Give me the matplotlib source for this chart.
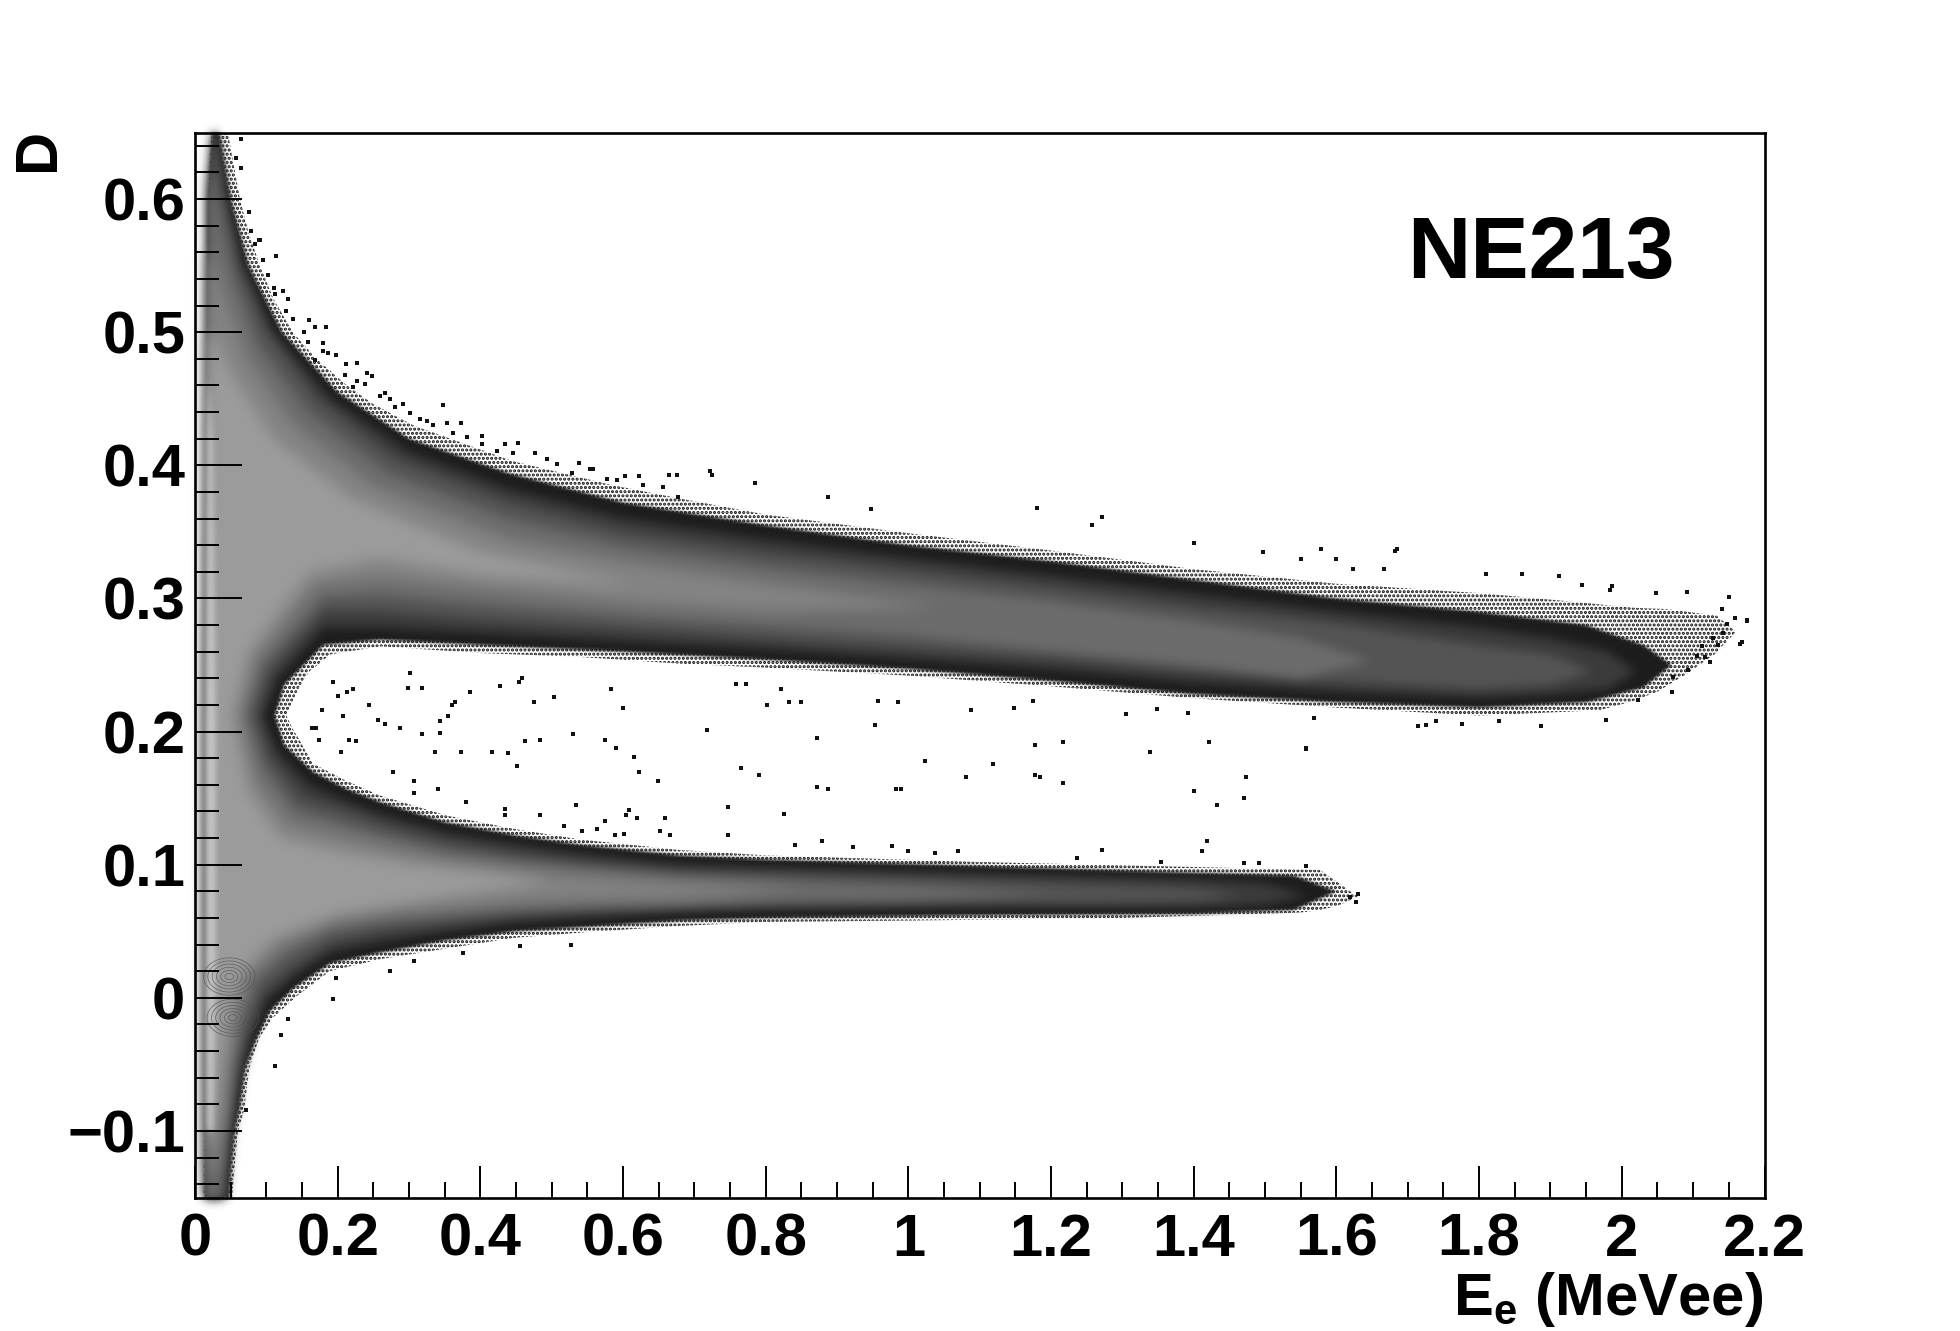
import numpy as np
import matplotlib
matplotlib.use("Agg")
import matplotlib.pyplot as plt
from matplotlib.patches import Ellipse
from matplotlib.ticker import MultipleLocator

plt.rcParams['font.family'] = ['Liberation Sans', 'DejaVu Sans']
plt.rcParams['mathtext.fontset'] = 'custom'
plt.rcParams['mathtext.bf'] = 'Liberation Sans:bold'
plt.rcParams['mathtext.rm'] = 'Liberation Sans:bold'
plt.rcParams['hatch.linewidth'] = 1.5

x_tick_values = [0, 0.2, 0.4, 0.6, 0.8, 1.0, 1.2, 1.4, 1.6, 1.8, 2.0, 2.2]
x_tick_labels = ['0', '0.2', '0.4', '0.6', '0.8', '1', '1.2', '1.4', '1.6', '1.8', '2', '2.2']
y_tick_values = [-0.1, 0, 0.1, 0.2, 0.3, 0.4, 0.5, 0.6]
y_tick_labels = ['\u22120.1', '0', '0.1', '0.2', '0.3', '0.4', '0.5', '0.6']

# Outer envelope of the speckled fringe (E, D)
fringe = [(.023,.65),(.046,.65),(.063,.6),(.075,.575),(.091,.55),(.11,.525),(.137,.5),(.17,.48),(.213,.46),(.25,.446),(.306,.43),(.446,.403),(.586,.385),(.68,.375),(.8,.363),(1.0,.349),(1.2,.336),(1.4,.322),(1.6,.311),(1.8,.304),(1.923,.298),(2.016,.293),(2.063,.292),(2.133,.287),(2.16,.275),
          (2.13,.258),(2.09,.243),(2.05,.23),(2.016,.223),(1.969,.216),(1.8,.212),(1.6,.218),(1.4,.225),(1.2,.234),(1.0,.242),(.8,.248),(.68,.251),(.54,.256),(.4,.259),(.26,.264),(.19,.258),(.16,.245),(.145,.232),(.136,.222),(.128,.212),
          (.136,.203),(.145,.195),(.165,.176),(.212,.163),(.259,.152),(.352,.137),(.446,.127),(.539,.119),(.68,.111),(.8,.107),(1.1,.102),(1.5,.097),(1.577,.096),(1.601,.087),(1.63,.076),
          (1.601,.069),(1.577,.066),(1.549,.064),(1.3,.060),(1.0,.058),(.8,.057),(.68,.054),(.54,.049),(.446,.045),(.352,.037),(.259,.029),(.189,.02),(.142,.001),(.109,-.015),(.09,-.03),(.076,-.053),(.069,-.084),(.06,-.101),(.055,-.13),(.052,-.15),
          (.012,-.15),(.014,.2),(.017,.45),(.018,.6)]
# Density contours inside it, from darkest to lightest
level1 = [(.024,.65),(.034,.65),(.05,.6),(.075,.55),(.122,.5),(.2,.455),(.3,.42),(.44,.394),(.6,.372),(.8,.355),(1,.34),(1.2,.328),(1.4,.314),(1.6,.3),(1.8,.29),(1.95,.28),(2.03,.265),(2.07,.25),
          (2.03,.233),(1.95,.222),(1.8,.218),(1.6,.222),(1.4,.228),(1.2,.238),(1,.247),(.8,.254),(.6,.26),(.4,.265),(.26,.269),(.18,.265),(.125,.235),(.112,.212),
          (.125,.19),(.165,.17),(.212,.157),(.26,.147),(.35,.132),(.45,.122),(.54,.115),(.68,.107),(.8,.104),(1.1,.099),(1.4,.094),(1.54,.092),(1.6,.08),
          (1.54,.066),(1.4,.063),(1.1,.062),(.8,.06),(.68,.058),(.54,.053),(.45,.05),(.35,.043),(.26,.034),(.19,.026),(.14,.008),(.105,-.01),(.085,-.032),(.07,-.053),(.062,-.084),(.055,-.101),(.05,-.13),(.048,-.15),
          (.014,-.15),(.014,.2),(.017,.45),(.018,.6)]
level2 = [(.024,.65),(.03,.65),(.045,.6),(.068,.55),(.11,.5),(.19,.45),(.3,.41),(.44,.382),(.6,.36),(.8,.344),(1,.33),(1.2,.317),(1.4,.303),(1.6,.29),(1.8,.278),(1.9,.27),(1.98,.26),(2.02,.245),
          (1.98,.232),(1.9,.228),(1.8,.226),(1.6,.23),(1.4,.237),(1.2,.247),(1,.255),(.8,.262),(.6,.268),(.4,.274),(.26,.278),(.18,.278),(.115,.24),(.095,.212),
          (.115,.185),(.16,.16),(.21,.148),(.26,.138),(.35,.124),(.45,.115),(.54,.108),(.68,.1),(.8,.098),(1.1,.093),(1.4,.089),(1.5,.086),(1.56,.077),
          (1.5,.07),(1.4,.068),(1.1,.068),(.8,.066),(.68,.064),(.54,.06),(.45,.057),(.35,.05),(.26,.042),(.19,.034),(.14,.017),(.1,-.002),(.08,-.028),(.066,-.053),(.057,-.084),(.051,-.101),(.046,-.13),(.044,-.15),
          (.014,-.15),(.014,.2),(.017,.45),(.018,.6)]
level3 = [(.024,.65),(.028,.65),(.04,.6),(.06,.55),(.1,.5),(.17,.45),(.28,.405),(.44,.372),(.6,.35),(.8,.334),(1,.321),(1.2,.308),(1.4,.293),(1.6,.281),(1.8,.265),(1.9,.258),(1.96,.245),
          (1.9,.235),(1.8,.232),(1.6,.238),(1.4,.245),(1.2,.255),(1,.263),(.8,.27),(.6,.277),(.4,.284),(.26,.29),(.18,.29),(.105,.245),(.085,.212),
          (.105,.18),(.15,.15),(.21,.14),(.26,.13),(.35,.117),(.45,.108),(.54,.102),(.68,.095),(.8,.093),(1.1,.088),(1.3,.084),(1.4,.082),(1.47,.077),
          (1.4,.073),(1.3,.072),(1.1,.072),(.8,.07),(.68,.068),(.54,.065),(.45,.062),(.35,.056),(.26,.05),(.19,.042),(.14,.025),(.095,.005),(.073,-.025),(.06,-.053),(.052,-.084),(.047,-.101),(.042,-.13),(.04,-.15),
          (.014,-.15),(.014,.2),(.017,.45),(.018,.6)]
level4 = [(.02,.62),(.024,.62),(.038,.58),(.055,.54),(.09,.49),(.16,.44),(.27,.395),(.44,.36),(.6,.34),(.8,.324),(1,.311),(1.2,.298),(1.4,.283),(1.55,.27),(1.65,.253),
          (1.55,.24),(1.4,.25),(1.2,.261),(1,.272),(.8,.279),(.6,.286),(.4,.295),(.26,.302),(.18,.3),(.095,.25),(.072,.212),
          (.095,.175),(.14,.142),(.2,.132),(.26,.122),(.35,.11),(.45,.102),(.54,.097),(.68,.09),(.8,.088),(1.0,.084),(1.2,.078),
          (1.0,.074),(.8,.073),(.68,.071),(.54,.069),(.45,.067),(.35,.062),(.26,.057),(.19,.05),(.13,.033),(.085,.012),(.065,-.02),(.052,-.053),(.046,-.084),(.042,-.101),(.037,-.13),(.034,-.15),
          (.016,-.15),(.016,.2),(.018,.45)]
level5 = [(.018,.56),(.024,.56),(.04,.53),(.075,.48),(.14,.43),(.25,.385),(.44,.345),(.6,.328),(.8,.312),(1.05,.293),
          (.8,.29),(.6,.297),(.4,.307),(.26,.315),(.17,.31),(.085,.255),(.062,.212),
          (.085,.165),(.13,.132),(.2,.122),(.26,.114),(.35,.103),(.45,.096),(.54,.091),(.68,.086),(.85,.081),
          (.68,.075),(.54,.074),(.45,.072),(.35,.068),(.26,.064),(.19,.058),(.12,.04),(.075,.018),(.056,-.015),(.044,-.053),(.039,-.084),(.035,-.101),(.03,-.13),
          (.018,-.13),(.017,.2)]
level6 = [(.018,.5),(.025,.5),(.05,.47),(.11,.42),(.22,.375),(.4,.335),(.62,.31),
          (.4,.318),(.26,.33),(.16,.32),(.075,.26),(.052,.212),
          (.075,.155),(.12,.12),(.2,.11),(.3,.1),(.4,.094),(.5,.087),
          (.4,.08),(.3,.072),(.2,.063),(.11,.045),(.065,.02),(.048,-.012),(.037,-.053),(.032,-.084),(.025,-.11),
          (.018,-.11),(.017,.2)]
left_strip = [(.018,.47),(.025,.42),(.029,.2),(.029,.03),(.026,-.1),(.017,-.1),(.016,.2)]
level_grays = ['#1c1c1c', '#3c3c3c', '#555555', '#6c6c6c', '#848484', '#9c9c9c']

# Isolated events
stray_void = [(.299,.233),(.318,.233),(.301,.244),(.385,.230),(.428,.234),(.459,.240),(.454,.237),(.503,.226),(.475,.222),(.583,.232),(.600,.218),(.759,.236),(.773,.236),(.821,.232),(.802,.220),(.832,.222),(.850,.222),(.957,.223),(.986,.222),(1.088,.216),(1.148,.218),(1.174,.223),(1.305,.213),(1.348,.217),(1.392,.214),(1.569,.210),
              (.200,.227),(.222,.232),(.213,.230),(.193,.237),(.244,.220),(.178,.216),(.208,.212),(.364,.222),(.360,.220),(.355,.212),(.343,.208),(.256,.209),(.267,.206),(.288,.203),(.343,.199),(.318,.198),(.164,.203),(.170,.203),(.174,.194),(.216,.194),(.226,.193),(.205,.185),(.337,.185),(.373,.185),(.417,.185),(.439,.184),(.462,.193),(.483,.194),(.530,.198),(.575,.194),(.590,.188),(.615,.181),(.451,.174),(.623,.170),(.649,.163),(.717,.201),(.872,.195),(.953,.205),(.766,.173),(.791,.167),(1.023,.178),(1.118,.176),(1.177,.190),(1.216,.192),(1.338,.185),(1.422,.192),(1.558,.187),(1.081,.166),(1.177,.167),(1.184,.166),(1.216,.161),(1.473,.166),(.872,.158),(.887,.157),(.982,.157),(.989,.157),(1.400,.155),(1.470,.150),(1.433,.145),
              (.278,.170),(.307,.163),(.340,.157),(.307,.154),(.380,.147),(.534,.145),(.435,.142),(.435,.137),(.483,.137),(.747,.143),(.825,.138),(.608,.141),(.604,.137),(.619,.135),(.659,.135),(.575,.133),(.517,.129),(.564,.127),(.542,.125),(.589,.122),(.602,.123),(.652,.125),(.666,.122),(.747,.122),(.879,.118),(1.418,.118),(.841,.115),(.977,.114),(1.272,.111),(1.411,.110),(1.070,.110),(1.037,.109),(1.000,.110),(.923,.113),(1.558,.099),(1.470,.101),(1.492,.101),(1.354,.102),(1.236,.105)]
stray_top = [(.065,.645),(.065,.623),(.057,.631),(.076,.590),(.091,.569),(.113,.557),(.095,.554),(.124,.531),(.131,.525),(.160,.509),(.168,.504),(.183,.504),(.197,.483),(.227,.477),(.212,.476),(.248,.467),(.241,.469),(.347,.445),(.373,.432),(.402,.422),(.453,.417),(.435,.416),(.538,.402),(.558,.397),(.665,.393),(.622,.392),(.603,.392),
             (.722,.396),(.724,.393),(.785,.387),(.675,.393),(1.18,.368),(1.271,.361),(1.257,.355),(.887,.376),(.948,.367),(1.40,.342),(1.497,.335),(1.579,.337),(1.685,.337),(1.55,.330),(1.86,.318),(1.944,.310),(1.984,.306),(2.15,.301),(2.175,.283),(2.168,.267)]
stray_edge = [(.079,.576),(.090,.569),(.084,.566),(.103,.543),(.111,.533),(.112,.529),(.128,.516),(.138,.510),(.153,.500),(.159,.493),(.179,.492),(.180,.486),(.187,.484),(.168,.479),(.210,.468),(.227,.463),(.238,.461),(.222,.459),(.259,.452),(.266,.454),(.273,.450),(.292,.446),(.280,.444),(.301,.439),(.315,.435),(.325,.433),(.334,.430),(.353,.432),(.362,.424),(.381,.421),(.402,.416),(.423,.411),(.446,.409),(.476,.409),(.493,.405),(.507,.401),(.528,.394),(.553,.397),(.577,.390),(.591,.389),(.628,.385),(.656,.384),(.677,.376)]
stray_tail = [(1.579,.337),(1.600,.330),(1.682,.336),(1.623,.322),(1.667,.322),(1.810,.318),(1.912,.317),(1.986,.309),(2.048,.304),(2.092,.305),(2.176,.284),(2.158,.285),(2.165,.266),(2.124,.252),(2.07,.230),(2.022,.224),(1.978,.209),(1.887,.204),(1.776,.206),(1.714,.204),(1.726,.205),(1.74,.208),(1.828,.208),(1.568,.210),(1.557,.188),(1.630,.078),(1.627,.072),(1.619,.076),
              (2.14,.292),(2.128,.27),(2.112,.264),(2.135,.265),(2.117,.256),(2.105,.257),(2.093,.246),(2.072,.241),(2.142,.274),(2.147,.281)]
stray_low = [(.193,-.001),(.274,.020),(.13,-.016),(.12,-.028),(.112,-.051),(.527,.040),(.455,.039),(.376,.034),(.307,.028),(.197,.015),(.072,-.084)]

# Ring artefacts near D = 0
ring_upper_center = (.048, .016)
ring_lower_center = (.053, -.015)
ring_e_radii = [.006, .012, .018, .024, .030, .036]
ring_d_radii = [.0023, .0046, .007, .0093, .0117, .014]


def blur_filter(gray, sigma_px=5):
    rgb = matplotlib.colors.to_rgb(gray)
    def process(im, dpi):
        pad = int(3 * sigma_px)
        alpha = np.pad(im[:, :, 3], pad, mode='constant')
        h, w = alpha.shape
        fy = np.fft.fftfreq(h)[:, None]
        fx = np.fft.rfftfreq(w)[None, :]
        kernel = np.exp(-2 * (np.pi * sigma_px) ** 2 * (fx ** 2 + fy ** 2))
        blurred = np.clip(np.fft.irfft2(np.fft.rfft2(alpha) * kernel, s=alpha.shape), 0, 1)
        out = np.zeros((h, w, 4))
        out[:, :, 0], out[:, :, 1], out[:, :, 2] = rgb
        out[:, :, 3] = blurred
        return out, -pad, -pad
    return process


W, H = 1960, 1331
fig = plt.figure(figsize=(W / 100, H / 100), dpi=100)
ax = fig.add_axes([195 / W, 1 - 1197.5 / H, (1764.5 - 195) / W, (1197.5 - 132.5) / H])

xs, ys = zip(*fringe)
ax.fill(xs, ys, facecolor='none', edgecolor='#111111', hatch='....', lw=0, zorder=2)

levels = [level1, level2, level3, level4, level5, level6]
blur_sizes = [1.5, 5, 5, 5, 7, 7]
for i, (poly, gray, sigma) in enumerate(zip(levels, level_grays, blur_sizes)):
    xs, ys = zip(*poly)
    patch = ax.fill(xs, ys, color=gray, lw=0, zorder=2.1 + i * 0.1)[0]
    patch.set_agg_filter(blur_filter(gray, sigma))

xs, ys = zip(*left_strip)
strip = ax.fill(xs, ys, color='#c8c8c8', lw=0, zorder=3)[0]
strip.set_agg_filter(blur_filter('#c8c8c8', 3))

for center in (ring_upper_center, ring_lower_center):
    for re, rd in zip(ring_e_radii, ring_d_radii):
        ax.add_patch(Ellipse(center, 2 * re, 2 * rd, fill=False, ec='#505050', lw=0.5, alpha=0.8, zorder=3.1))

for pts in (stray_void, stray_top, stray_edge, stray_tail, stray_low):
    xs, ys = zip(*pts)
    ax.plot(xs, ys, ls='none', marker='s', ms=2.3, mfc='#111111', mew=0, zorder=4)

ax.set_xlim(0, 2.2)
ax.set_ylim(-0.15, 0.65)
ax.set_xticks(x_tick_values, x_tick_labels)
ax.set_yticks(y_tick_values, y_tick_labels)
ax.xaxis.set_minor_locator(MultipleLocator(0.05))
ax.yaxis.set_minor_locator(MultipleLocator(0.02))
ax.tick_params(axis='x', which='major', direction='in', length=23, width=1.4, pad=11, labelsize=43)
ax.tick_params(axis='x', which='minor', direction='in', length=11.5, width=1.4)
ax.tick_params(axis='y', which='major', direction='in', length=34, width=1.4, pad=7, labelsize=43)
ax.tick_params(axis='y', which='minor', direction='in', length=17, width=1.4)
ax.xaxis.set_zorder(5)
ax.yaxis.set_zorder(5)
for lab in ax.get_xticklabels() + ax.get_yticklabels():
    lab.set_fontweight('bold')
for s in ax.spines.values():
    s.set_linewidth(1.9)
    s.set_zorder(6)

fig.text(1763 / W, 1 - 1315 / H, r'$\mathbf{E_{e}}$ (MeVee)', ha='right', va='baseline', fontsize=43, fontweight='bold')
fig.text(66 / W, 1 - 128 / H, 'D', rotation=90, ha='right', va='top', fontsize=43, fontweight='bold')
ax.text(1.887, 0.5578, 'NE213', ha='center', va='center', fontsize=63, fontweight='bold')

fig.savefig('out.png', dpi=100)
